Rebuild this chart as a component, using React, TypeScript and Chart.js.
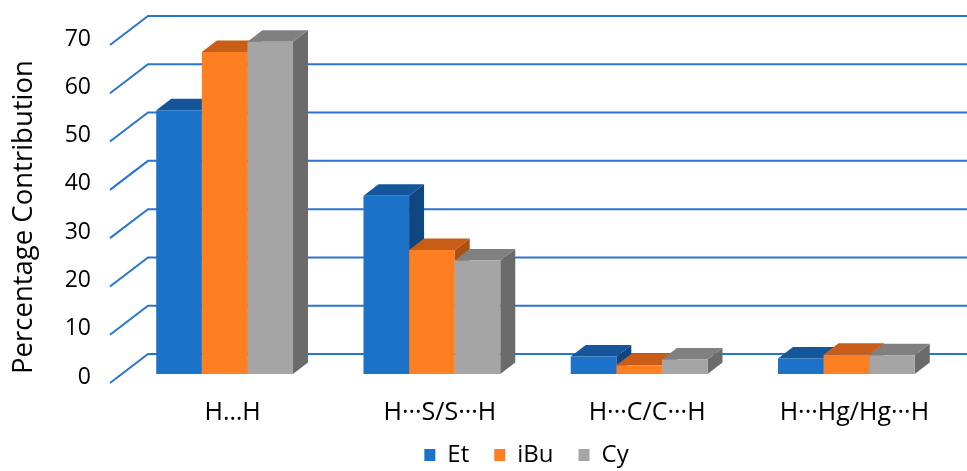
import { useEffect, useRef } from 'react';
import { Chart, registerables } from 'chart.js';

Chart.register(...registerables);

// Contact types and their percentage contributions per compound
const contacts = ['H…H', 'H···S/S···H', 'H···C/C···H', 'H···Hg/Hg···H'];
const etValues = [54.6, 36.9, 3.6, 3.2];
const iBuValues = [66.7, 25.7, 1.8, 4.0];
const cyValues = [68.8, 23.5, 3.0, 3.9];
const seriesNames = ['Et', 'iBu', 'Cy'];
const yTicks = [0, 10, 20, 30, 40, 50, 60, 70];
const yTitle = 'Percentage Contribution';

const FONT = '"Open Sans", "DejaVu Sans", sans-serif';

// front / top / side shades per series
const fronts = ['#1b72c8', '#fe7f22', '#a5a5a5'];
const tops = ['#15569a', '#c95c16', '#808080'];
const sides = ['#0f4680', '#ad4f12', '#6b6b6b'];
const GRID = '#2a76cc';

// extrusion of each bar and of the walls
const BAR_DX = 15;
const BAR_DY = 11.5;
const WALL_FRONT_DX = -11;
const WALL_FRONT_DY = 9;
const WALL_BACK_DX = 27;
const WALL_BACK_DY = -20;

const depthPlugin = {
  id: 'depth3d',
  afterLayout(chart: any) {
    // tick labels may spill past their narrow axis boxes
    chart.scales.y.left = 0;
    chart.scales.x.bottom = chart.height;
  },
  beforeDatasetsDraw(chart: any) {
    const { ctx, chartArea, scales } = chart;
    const y = scales.y;
    ctx.save();
    // wall grid: diagonal on the side wall, horizontal on the back wall
    ctx.strokeStyle = GRID;
    ctx.lineWidth = 2;
    for (const v of yTicks) {
      const py = y.getPixelForValue(v);
      ctx.beginPath();
      ctx.moveTo(chartArea.left + WALL_FRONT_DX, py + WALL_FRONT_DY);
      ctx.lineTo(chartArea.left + WALL_BACK_DX, py + WALL_BACK_DY);
      ctx.lineTo(chart.width, py + WALL_BACK_DY);
      ctx.stroke();
    }
    // top and side faces of each bar, left to right
    const n = chart.data.labels.length;
    for (let j = 0; j < n; j++) {
      chart.data.datasets.forEach((_: any, i: number) => {
        const el = chart.getDatasetMeta(i).data[j];
        const { x, y: top, base, width } = el.getProps(['x', 'y', 'base', 'width'], true);
        const L = x - width / 2;
        const R = x + width / 2;
        ctx.fillStyle = sides[i];
        ctx.beginPath();
        ctx.moveTo(R, top);
        ctx.lineTo(R + BAR_DX, top - BAR_DY);
        ctx.lineTo(R + BAR_DX, base - BAR_DY);
        ctx.lineTo(R, base);
        ctx.closePath();
        ctx.fill();
        ctx.fillStyle = tops[i];
        ctx.beginPath();
        ctx.moveTo(L, top);
        ctx.lineTo(R, top);
        ctx.lineTo(R + BAR_DX, top - BAR_DY);
        ctx.lineTo(L + BAR_DX, top - BAR_DY);
        ctx.closePath();
        ctx.fill();
      });
    }
    ctx.restore();
  },
  afterDraw(chart: any) {
    // vertical axis title
    const { ctx } = chart;
    ctx.save();
    ctx.translate(24, 217);
    ctx.rotate(-Math.PI / 2);
    ctx.font = `27.5px ${FONT}`;
    ctx.fillStyle = '#000';
    ctx.textAlign = 'center';
    ctx.textBaseline = 'middle';
    ctx.fillText(yTitle, 0, 0);
    ctx.restore();
  },
};

export default function App() {
  const canvasRef = useRef<HTMLCanvasElement | null>(null);

  useEffect(() => {
    if (!canvasRef.current) return;
    const values = [etValues, iBuValues, cyValues];
    const chart = new Chart(canvasRef.current, {
      type: 'bar',
      data: {
        labels: contacts,
        datasets: seriesNames.map((name, i) => ({
          label: name,
          data: values[i],
          backgroundColor: fronts[i],
          borderWidth: 0,
          categoryPercentage: 0.66,
          barPercentage: 1,
        })),
      },
      options: {
        animation: false,
        responsive: true,
        maintainAspectRatio: false,
        layout: { padding: { top: 36, right: 17, left: 103, bottom: -6 } },
        plugins: {
          legend: {
            position: 'bottom',
            labels: {
              boxWidth: 11,
              boxHeight: 12,
              padding: 25,
              color: '#000',
              font: { family: FONT, size: 24 },
            },
          },
          tooltip: { enabled: false },
        },
        scales: {
          x: {
            grid: { display: false, drawTicks: false },
            border: { display: false },
            ticks: {
              color: '#000',
              font: { family: FONT, size: 25 },
              padding: 23.5,
              labelOffset: 8,
              maxRotation: 0,
            },
            afterFit(scale: any) {
              scale.height = 44;
            },
          },
          y: {
            min: 0,
            max: 70,
            grid: { display: false, drawTicks: true, tickLength: 20 },
            border: { display: false },
            ticks: {
              stepSize: 10,
              color: '#000',
              font: { family: FONT, size: 23 },
              padding: 10,
              labelOffset: 3,
            },
            afterFit(scale: any) {
              scale.width = 18;
            },
          },
        },
      },
      plugins: [depthPlugin],
    });
    return () => chart.destroy();
  }, []);

  return (
    <div style={{ position: 'fixed', left: 0, top: 0, width: 967, height: 471, background: '#fff' }}>
      <canvas ref={canvasRef} />
    </div>
  );
}
